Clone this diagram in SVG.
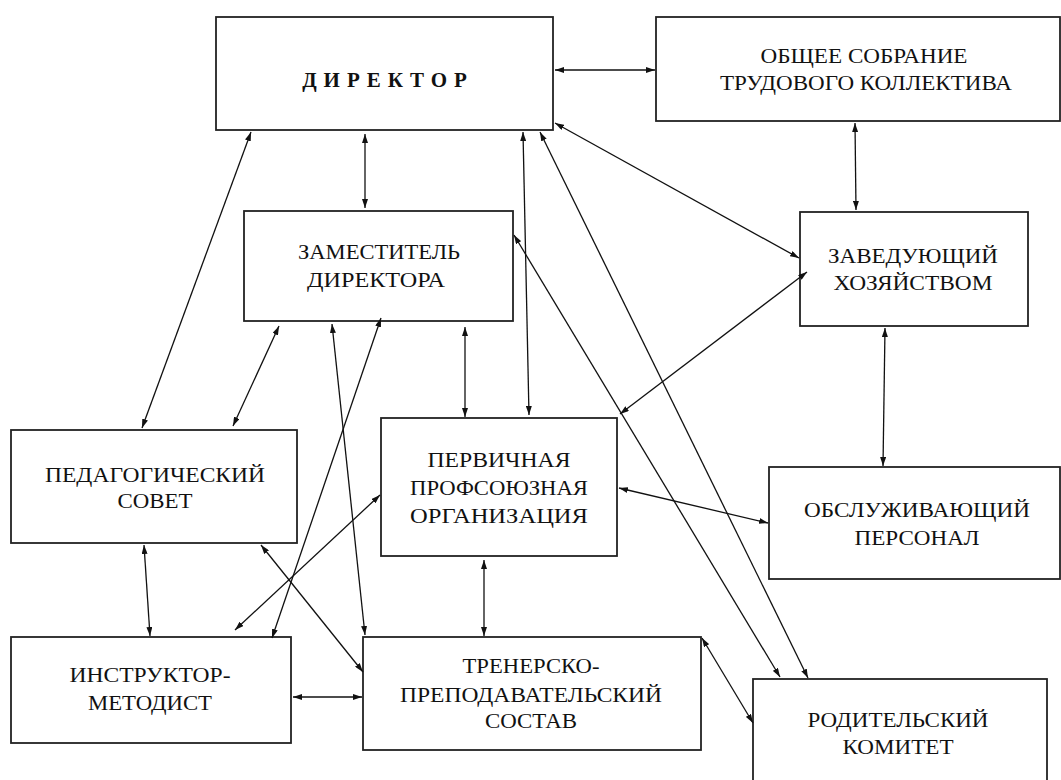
<svg xmlns="http://www.w3.org/2000/svg" width="1061" height="780" viewBox="0 0 1061 780">
<style>
.box{fill:#fff;stroke:#222;stroke-width:1.8}
.t{font-family:"Liberation Serif","Times New Roman",serif;font-size:21px;fill:#111;text-anchor:middle}
.b{font-weight:bold;letter-spacing:7px}
.c line{stroke:#111;stroke-width:1.3;marker-start:url(#ah);marker-end:url(#ah)}
</style>
<defs>
<marker id="ah" viewBox="0 0 9 6" refX="9" refY="3" markerWidth="9" markerHeight="6" markerUnits="userSpaceOnUse" orient="auto-start-reverse">
<path d="M0,0 L9,3 L0,6 z" fill="#111"/>
</marker>
</defs>
<rect width="1061" height="780" fill="#fff"/>
<g id="director"><rect class="box" x="216" y="17" width="337" height="113"/><text class="t b" x="388" y="87">ДИРЕКТОР</text></g>
<g id="obshchee"><rect class="box" x="656" y="17" width="404" height="104"/><text class="t" x="864" y="63" textLength="207" lengthAdjust="spacingAndGlyphs">ОБЩЕЕ СОБРАНИЕ</text><text class="t" x="866" y="90" textLength="292" lengthAdjust="spacingAndGlyphs">ТРУДОВОГО КОЛЛЕКТИВА</text></g>
<g id="zamestitel"><rect class="box" x="244" y="211" width="269" height="110"/><text class="t" x="379" y="259" textLength="162" lengthAdjust="spacingAndGlyphs">ЗАМЕСТИТЕЛЬ</text><text class="t" x="376" y="287" textLength="138" lengthAdjust="spacingAndGlyphs">ДИРЕКТОРА</text></g>
<g id="zaveduyushchiy"><rect class="box" x="800" y="212" width="228" height="114"/><text class="t" x="913" y="263" textLength="170" lengthAdjust="spacingAndGlyphs">ЗАВЕДУЮЩИЙ</text><text class="t" x="913" y="290" textLength="159" lengthAdjust="spacingAndGlyphs">ХОЗЯЙСТВОМ</text></g>
<g id="pedsovet"><rect class="box" x="11" y="430" width="286" height="113"/><text class="t" x="155" y="482" textLength="220" lengthAdjust="spacingAndGlyphs">ПЕДАГОГИЧЕСКИЙ</text><text class="t" x="155" y="508" textLength="75" lengthAdjust="spacingAndGlyphs">СОВЕТ</text></g>
<g id="pervichnaya"><rect class="box" x="381" y="418" width="236" height="138"/><text class="t" x="499" y="467" textLength="143" lengthAdjust="spacingAndGlyphs">ПЕРВИЧНАЯ</text><text class="t" x="499" y="495" textLength="178" lengthAdjust="spacingAndGlyphs">ПРОФСОЮЗНАЯ</text><text class="t" x="499" y="523" textLength="178" lengthAdjust="spacingAndGlyphs">ОРГАНИЗАЦИЯ</text></g>
<g id="obsluzhivayushchiy"><rect class="box" x="769" y="467" width="291" height="112"/><text class="t" x="917" y="517" textLength="226" lengthAdjust="spacingAndGlyphs">ОБСЛУЖИВАЮЩИЙ</text><text class="t" x="917" y="545" textLength="125" lengthAdjust="spacingAndGlyphs">ПЕРСОНАЛ</text></g>
<g id="instruktor"><rect class="box" x="11" y="637" width="280" height="106"/><text class="t" x="150" y="682" textLength="161" lengthAdjust="spacingAndGlyphs">ИНСТРУКТОР-</text><text class="t" x="150" y="710" textLength="124" lengthAdjust="spacingAndGlyphs">МЕТОДИСТ</text></g>
<g id="trenerskiy"><rect class="box" x="363" y="637" width="338" height="113"/><text class="t" x="531" y="673" textLength="137" lengthAdjust="spacingAndGlyphs">ТРЕНЕРСКО-</text><text class="t" x="531" y="702" textLength="262" lengthAdjust="spacingAndGlyphs">ПРЕПОДАВАТЕЛЬСКИЙ</text><text class="t" x="531" y="728" textLength="92" lengthAdjust="spacingAndGlyphs">СОСТАВ</text></g>
<g id="roditelskiy"><rect class="box" x="753" y="679" width="294" height="120"/><text class="t" x="898" y="727" textLength="181" lengthAdjust="spacingAndGlyphs">РОДИТЕЛЬСКИЙ</text><text class="t" x="898" y="754" textLength="111" lengthAdjust="spacingAndGlyphs">КОМИТЕТ</text></g>
<g id="connectors" class="c">
<line x1="555" y1="70" x2="655" y2="70"/>
<line x1="365" y1="134" x2="365" y2="208"/>
<line x1="251" y1="132" x2="142" y2="428"/>
<line x1="523" y1="132" x2="529" y2="415"/>
<line x1="540" y1="132" x2="808" y2="678"/>
<line x1="555" y1="123" x2="799" y2="258"/>
<line x1="514" y1="235" x2="780" y2="677"/>
<line x1="855" y1="123" x2="856" y2="210"/>
<line x1="885" y1="328" x2="883" y2="466"/>
<line x1="620" y1="414" x2="807" y2="272"/>
<line x1="619" y1="488" x2="768" y2="523"/>
<line x1="279" y1="326" x2="233" y2="426"/>
<line x1="465" y1="327" x2="465" y2="417"/>
<line x1="332" y1="324" x2="365" y2="635"/>
<line x1="381" y1="318" x2="272" y2="638"/>
<line x1="261" y1="545" x2="363" y2="672"/>
<line x1="380" y1="495" x2="235" y2="630"/>
<line x1="144" y1="545" x2="150" y2="636"/>
<line x1="484" y1="560" x2="484" y2="636"/>
<line x1="293" y1="697" x2="362" y2="697"/>
<line x1="702" y1="638" x2="753" y2="723"/>
</g>
</svg>
